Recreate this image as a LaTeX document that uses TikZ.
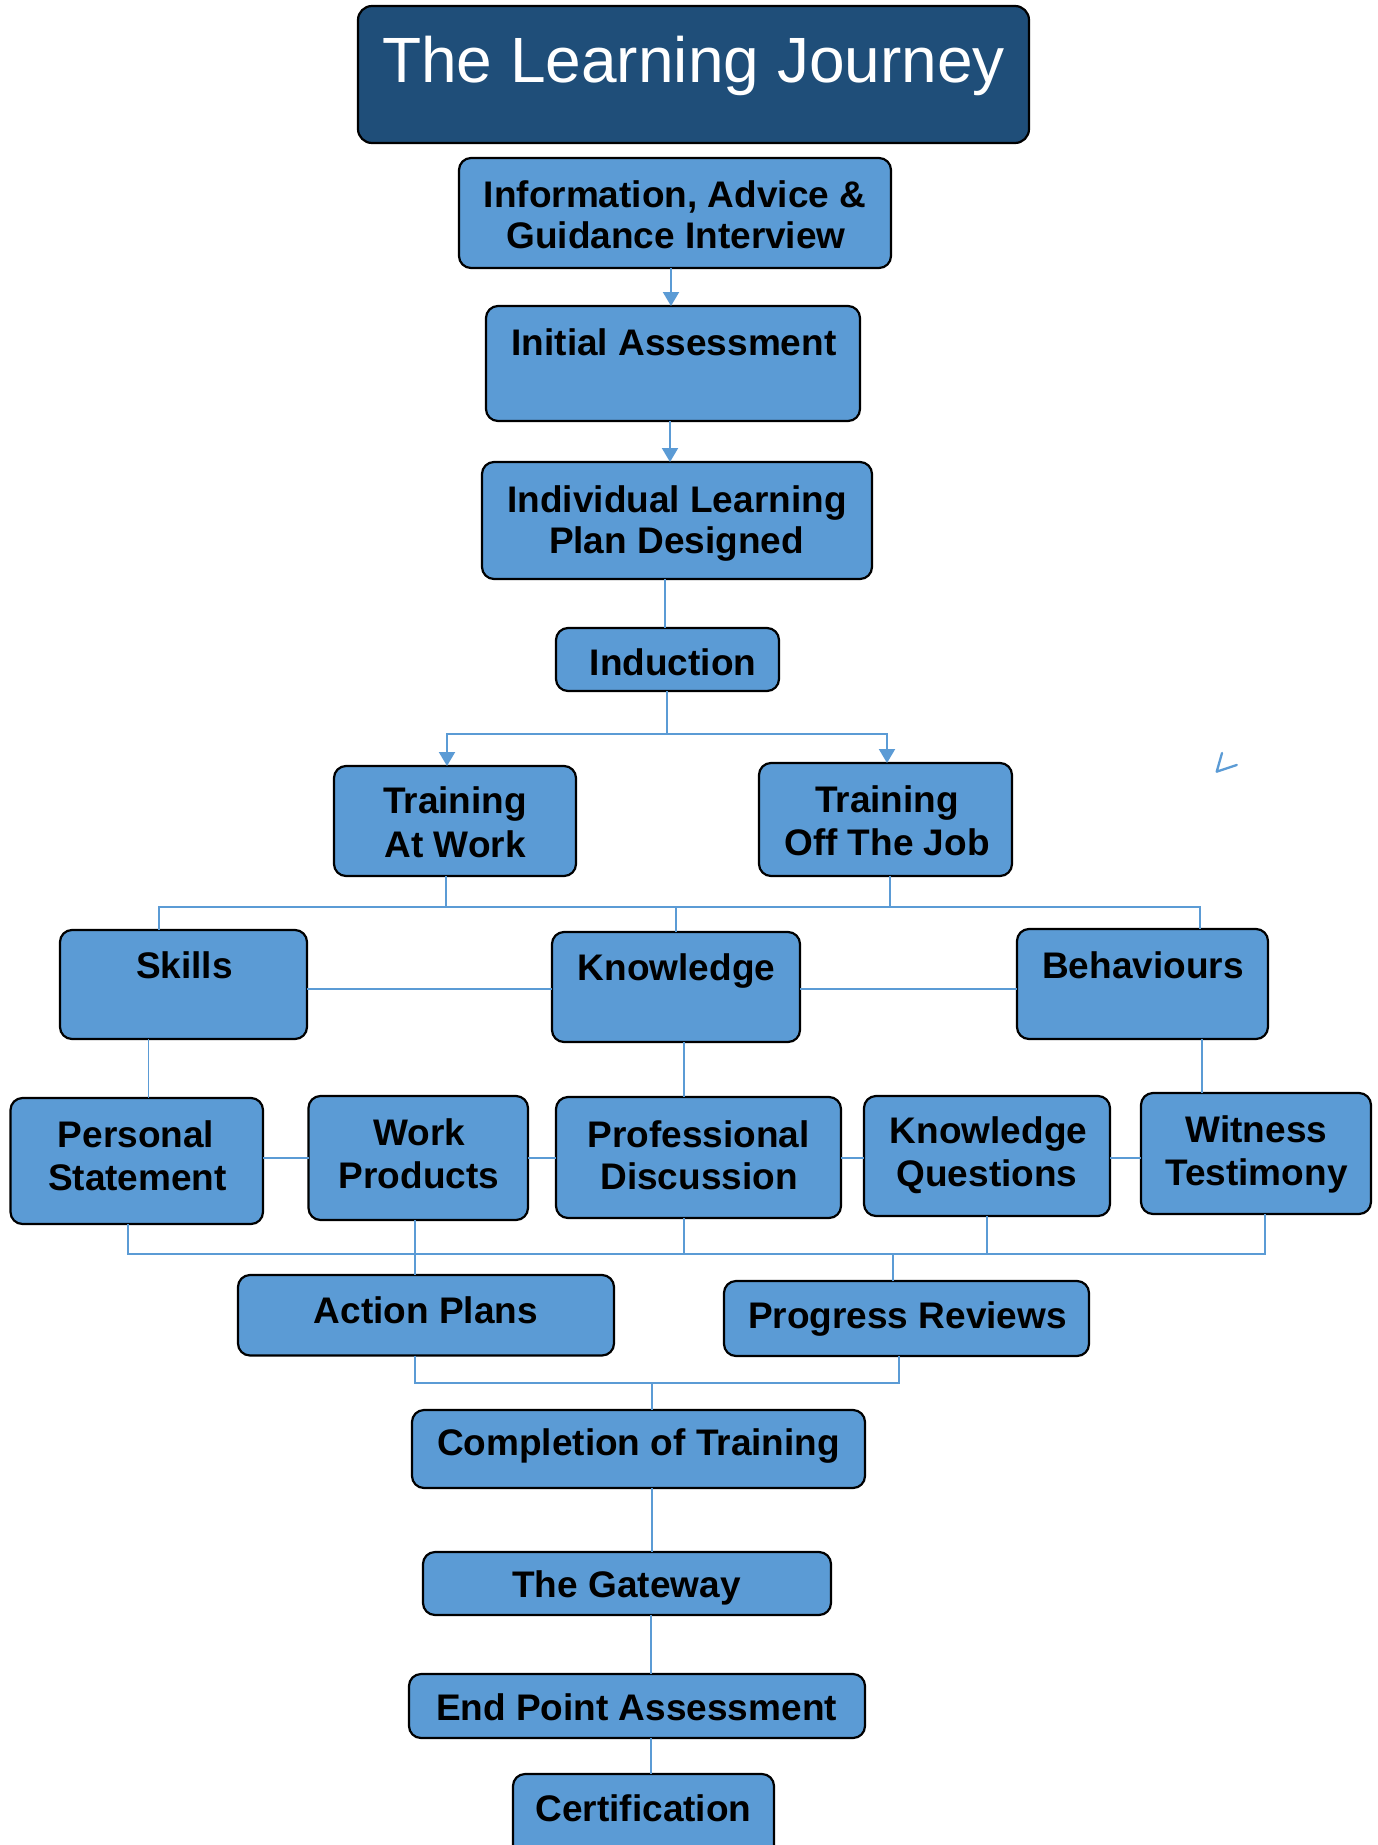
\documentclass[tikz,border=0pt]{standalone}
\usepackage{fontspec}
\setmainfont{Liberation Sans}
\usetikzlibrary{arrows.meta}
\definecolor{boxblue}{HTML}{5B9BD5}
\definecolor{titleblue}{HTML}{1F4E79}
\definecolor{lineblue}{HTML}{5B9BD5}
\begin{document}
\begin{tikzpicture}[x=1pt,y=-1pt,
  box/.style={draw=black, line width=2.2pt, fill=boxblue, rounded corners=12pt, inner sep=0pt, outer sep=0pt},
  titlebox/.style={box, fill=titleblue, rounded corners=14pt},
  lbl/.style={anchor=base, inner sep=0pt, font=\bfseries\fontsize{37}{43}\selectfont},
  ttl/.style={anchor=base, inner sep=0pt, text=white, font=\fontsize{64}{70}\selectfont},
  ln/.style={draw=lineblue, line width=1.6pt},
  arr/.style={draw=lineblue, line width=2pt, -{Triangle[width=16pt,length=14pt]}}]
\useasboundingbox (0,0) rectangle (1378,1845);
\clip (0,0) rectangle (1378,1845);
\fill[white] (0,0) rectangle (1378,1845);

% bus levels
\coordinate (bus1) at (0,734);
\coordinate (bus2) at (0,907);
\coordinate (hy) at (0,989);
\coordinate (ry) at (0,1158);
\coordinate (bus3) at (0,1254);
\coordinate (bus4) at (0,1383);

% boxes
\node[titlebox, minimum width=671pt, minimum height=137pt] (title) at (693.5,74.5) {};
\node[box, minimum width=432pt, minimum height=110pt] (iag) at (675,213) {};
\node[box, minimum width=374pt, minimum height=115pt] (ia) at (673,363.5) {};
\node[box, minimum width=390pt, minimum height=117pt] (ilp) at (677,520.5) {};
\node[box, minimum width=223pt, minimum height=63pt] (ind) at (667.5,659.5) {};
\node[box, minimum width=242pt, minimum height=110pt] (taw) at (455,821) {};
\node[box, minimum width=253pt, minimum height=113pt] (toj) at (885.5,819.5) {};
\node[box, minimum width=247pt, minimum height=109pt] (skills) at (183.5,984.5) {};
\node[box, minimum width=248pt, minimum height=110pt] (know) at (676,987) {};
\node[box, minimum width=251pt, minimum height=110pt] (beh) at (1142.5,984) {};
\node[box, minimum width=252.5pt, minimum height=126pt] (ps) at (136.75,1161) {};
\node[box, minimum width=219.5pt, minimum height=124pt] (wp) at (418.25,1158) {};
\node[box, minimum width=285pt, minimum height=121pt] (pd) at (698.5,1157.5) {};
\node[box, minimum width=246pt, minimum height=120pt] (kq) at (987,1156) {};
\node[box, minimum width=230pt, minimum height=121pt] (wt) at (1256,1153.5) {};
\node[box, minimum width=376pt, minimum height=80.5pt] (ap) at (426,1315.25) {};
\node[box, minimum width=365pt, minimum height=75pt] (pr) at (906.5,1318.5) {};
\node[box, minimum width=453pt, minimum height=78pt] (comp) at (638.5,1449) {};
\node[box, minimum width=408pt, minimum height=63pt] (gate) at (627,1583.5) {};
\node[box, minimum width=456pt, minimum height=64pt] (epa) at (637,1706) {};
\node[box, minimum width=261pt, minimum height=106pt] (cert) at (643.5,1827) {};

% texts
\node[ttl] (t-title) at (693.5,82) {The Learning Journey};
\node[lbl] (t-iag1) at (675,207) {Information, Advice \&};
\node[lbl] (t-iag2) at (676,248) {Guidance Interview};
\node[lbl] (t-ia) at (674,355) {Initial Assessment};
\node[lbl] (t-ilp1) at (677,512) {Individual Learning};
\node[lbl] (t-ilp2) at (676.5,553) {Plan Designed};
\node[lbl] (t-ind) at (673,675) {Induction};
\node[lbl] (t-taw1) at (455,813) {Training};
\node[lbl] (t-taw2) at (455,857) {At Work};
\node[lbl] (t-toj1) at (887,812) {Training};
\node[lbl] (t-toj2) at (887,855) {Off The Job};
\node[lbl] (t-skills) at (184.5,978) {Skills};
\node[lbl] (t-know) at (676.5,980) {Knowledge};
\node[lbl] (t-beh) at (1143,978) {Behaviours};
\node[lbl] (t-ps1) at (136,1147) {Personal};
\node[lbl] (t-ps2) at (137.5,1190) {Statement};
\node[lbl] (t-wp1) at (419.5,1145) {Work};
\node[lbl] (t-wp2) at (419,1188) {Products};
\node[lbl] (t-pd1) at (698.5,1147) {Professional};
\node[lbl] (t-pd2) at (699,1189) {Discussion};
\node[lbl] (t-kq1) at (988.5,1143) {Knowledge};
\node[lbl] (t-kq2) at (987,1186) {Questions};
\node[lbl] (t-wt1) at (1256.5,1142) {Witness};
\node[lbl] (t-wt2) at (1256.5,1185) {Testimony};
\node[lbl] (t-ap) at (426,1323) {Action Plans};
\node[lbl] (t-pr) at (907.5,1328) {Progress Reviews};
\node[lbl] (t-comp) at (638.5,1455) {Completion of Training};
\node[lbl] (t-gate) at (626.5,1597) {The Gateway};
\node[lbl] (t-epa) at (636.5,1720) {End Point Assessment};
\node[lbl] (t-cert) at (643.5,1821) {Certification};

% connectors
\draw[arr] ([xshift=-4pt]iag.south) -- ([xshift=-4pt]iag.south |- ia.north);
\draw[arr] ([xshift=-3pt]ia.south) -- ([xshift=-3pt]ia.south |- ilp.north);
\draw[ln] ([xshift=-12pt]ilp.south) -- ([xshift=-12pt]ilp.south |- ind.north);
\draw[ln] ([xshift=-0.5pt]ind.south) -- ([xshift=-0.5pt]ind.south |- bus1);
\draw[arr] ([xshift=-0.5pt]ind.south |- bus1) -| ([xshift=-8pt]taw.north);
\draw[arr] ([xshift=-0.5pt]ind.south |- bus1) -| ([xshift=1.5pt]toj.north);

\draw[ln] ([xshift=-9pt]taw.south) -- ([xshift=-9pt]taw.south |- bus2);
\draw[ln] ([xshift=4.5pt]toj.south) -- ([xshift=4.5pt]toj.south |- bus2);
\draw[ln] ([xshift=-24.5pt]skills.north) -- ([xshift=-24.5pt]skills.north |- bus2) -| ([xshift=57.5pt]beh.north);
\draw[ln] (know.north) -- (know.north |- bus2);

\draw[ln] (skills.east |- hy) -- (know.west |- hy);
\draw[ln] (know.east |- hy) -- (beh.west |- hy);

\draw[ln] ([xshift=-35pt]skills.south) -- ([xshift=-35pt]skills.south |- ps.north);
\draw[ln] ([xshift=8pt]know.south) -- ([xshift=8pt]know.south |- pd.north);
\draw[ln] ([xshift=59.5pt]beh.south) -- ([xshift=59.5pt]beh.south |- wt.north);

\draw[ln] (ps.east |- ry) -- (wp.west |- ry);
\draw[ln] (wp.east |- ry) -- (pd.west |- ry);
\draw[ln] (pd.east |- ry) -- (kq.west |- ry);
\draw[ln] (kq.east |- ry) -- (wt.west |- ry);

\draw[ln] ([xshift=-8.75pt]ps.south) -- ([xshift=-8.75pt]ps.south |- bus3) -- ([xshift=9pt]wt.south |- bus3) -- ([xshift=9pt]wt.south);
\draw[ln] ([xshift=-3.25pt]wp.south) -- ([xshift=-3.25pt]wp.south |- ap.north);
\draw[ln] ([xshift=-14.5pt]pd.south) -- ([xshift=-14.5pt]pd.south |- bus3);
\draw[ln] (kq.south) -- (kq.south |- bus3);
\draw[ln] ([xshift=-13.5pt]pr.north) -- ([xshift=-13.5pt]pr.north |- bus3);

\draw[ln] ([xshift=-11pt]ap.south) -- ([xshift=-11pt]ap.south |- bus4) -- ([xshift=-7.5pt]pr.south |- bus4) -- ([xshift=-7.5pt]pr.south);
\draw[ln] ([xshift=13.5pt]comp.north) -- ([xshift=13.5pt]comp.north |- bus4);
\draw[ln] ([xshift=13.5pt]comp.south) -- ([xshift=13.5pt]comp.south |- gate.north);
\draw[ln] ([xshift=24pt]gate.south) -- ([xshift=24pt]gate.south |- epa.north);
\draw[ln] ([xshift=14pt]epa.south) -- ([xshift=14pt]epa.south |- cert.north);

% stray stroke
\draw[draw=lineblue, line width=2.3pt, line cap=round, line join=round] (1222,753) -- (1216.7,771.7) -- (1236.7,765);
\end{tikzpicture}
\end{document}
